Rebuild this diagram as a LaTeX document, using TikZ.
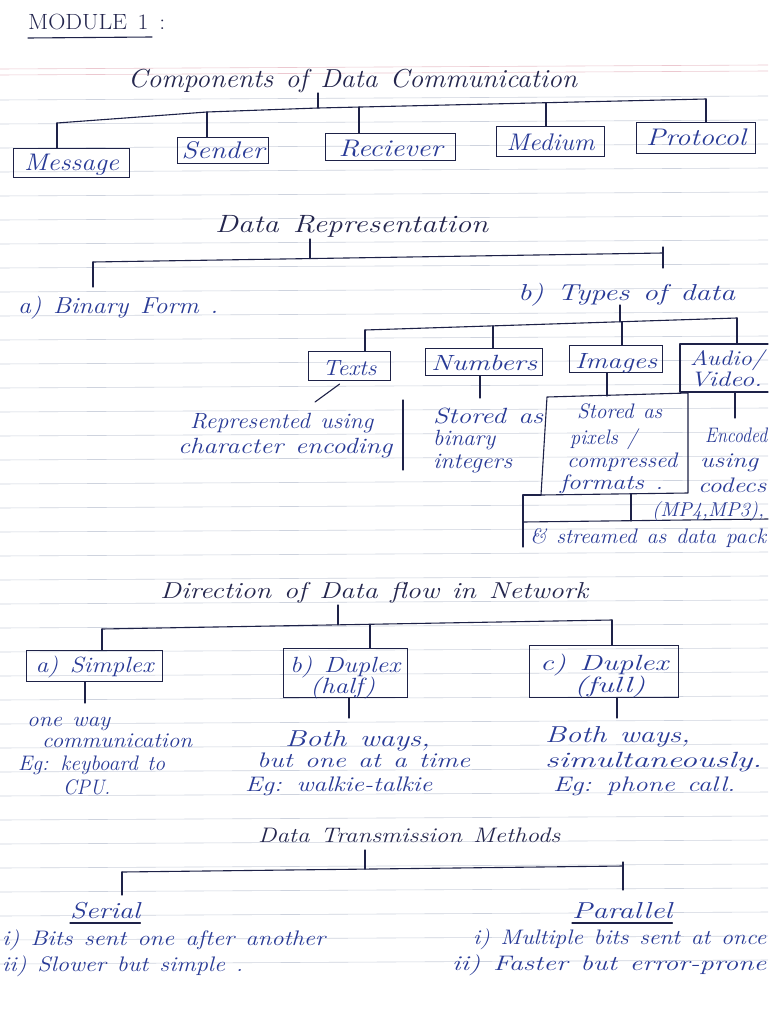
\documentclass[tikz,border=0pt]{standalone}
\usepackage{fontspec}
\usepackage{graphicx}
\definecolor{ink}{RGB}{36,38,78}
\definecolor{blueink}{RGB}{40,58,150}
\definecolor{lineink}{RGB}{30,34,72}
\definecolor{rulegray}{RGB}{206,211,222}
\definecolor{pinkrule}{RGB}{236,200,208}
\newcommand\fw[2]{\resizebox{#1pt}{\height}{\spaceskip=0.45em plus .1em\relax #2}}
\tikzset{
  hw/.style={inner sep=0pt, anchor=base west, text=blueink, font=\fontsize{#1pt}{#1pt}\selectfont\itshape},
  hw/.default=22,
  hd/.style={hw=#1, text=ink},
  hd/.default=25,
  bx/.style={draw=lineink, line width=1.1pt, inner sep=0pt, anchor=north west, text=blueink, font=\fontsize{#1pt}{#1pt}\selectfont\itshape},
  bx/.default=24,
  cn/.style={draw=lineink, line width=1.1pt, line cap=round, line join=round},
  ruled/.style={draw=rulegray, line width=0.6pt},
  pinkline/.style={draw=pinkrule, line width=0.6pt}
}
\begin{document}
\begin{tikzpicture}[x=1pt,y=-1pt]
\useasboundingbox (0,0) rectangle (768,1024);
\fill[white] (0,0) rectangle (768,1024);
% notebook rules
\foreach \k in {0,...,36} { \draw[ruled] (0,100+24*\k) -- (768,96+24*\k); }
\draw[pinkline] (0,69) -- (768,65);
\draw[pinkline] (0,75) -- (768,71);

% ---------- Module title ----------
\node[hd=22, font=\fontsize{22pt}{22pt}\selectfont\upshape] (mod) at (28,30) {\fw{137}{MODULE 1 :}};
\draw[cn] ([yshift=-8pt]mod.base west) -- ++(124,-1);

% ---------- Components of Data Communication ----------
\node[hd=26] (comp) at (128,88) {\fw{449}{Components of Data Communication}};
\node[bx, minimum width=116pt, minimum height=29pt, text height=22pt, text depth=7pt] (msg) at (13,148) {\fw{95}{Message}};
\node[bx, minimum width=91pt, minimum height=26pt, text height=21pt, text depth=5pt] (snd) at (177,137) {\fw{83}{Sender}};
\node[bx, minimum width=130pt, minimum height=27pt, text height=23pt, text depth=4pt] (rcv) at (325,133) {\fw{104}{Reciever}};
\node[bx, minimum width=108pt, minimum height=30pt, text height=24pt, text depth=6pt] (med) at (496,126) {\fw{88}{Medium}};
\node[bx, minimum width=119pt, minimum height=31pt, text height=23pt, text depth=8pt] (pro) at (636,122) {\fw{100}{Protocol}};
\coordinate (c0) at (318,93);
\coordinate (b1a) at (57,123);
\coordinate (b1b) at (207,112);
\coordinate (b1c) at (318,108);
\coordinate (b1d) at (359,107);
\coordinate (b1e) at (546,102.7);
\coordinate (b1f) at (706,99);
\draw[cn] (c0) -- (b1c);
\draw[cn] (b1a) -- (b1b) -- (b1c) -- (b1f);
\draw[cn] (b1a) -- (msg.north -| b1a);
\draw[cn] (b1b) -- (snd.north -| b1b);
\draw[cn] (b1d) -- (rcv.north -| b1d);
\draw[cn] (b1e) -- (med.north -| b1e);
\draw[cn] (b1f) -- (pro.north -| b1f);

% ---------- Data Representation ----------
\node[hd] (drep) at (215,233) {\fw{273}{Data Representation}};
\node[hw=23] (bin) at (18,313) {\fw{200}{a) Binary Form .}};
\node[hw=23] (typ) at (518,300) {\fw{217}{b) Types of data}};
\coordinate (d0) at (310,239);
\coordinate (dm) at (310,258.6);
\coordinate (d1) at (93,262);
\coordinate (d1b) at (93,287);
\coordinate (d2) at (663,253);
\coordinate (d2a) at (663,247);
\coordinate (d2b) at (663,268);
\draw[cn] (d0) -- (dm);
\draw[cn] (d1) -- (d2);
\draw[cn] (d1) -- (d1b);
\draw[cn] (d2a) -- (d2b);

\node[bx=22, minimum width=82pt, minimum height=29pt, text height=24pt, text depth=5pt] (txt) at (308,351) {\fw{54}{Texts}};
\node[bx=22, minimum width=117pt, minimum height=27pt, text height=22pt, text depth=5pt] (num) at (425,348) {\fw{106}{Numbers}};
\node[bx=22, minimum width=93pt, minimum height=27pt, text height=23pt, text depth=4pt] (img) at (569,345) {\fw{82}{Images}};
\coordinate (av1) at (768,344);
\coordinate (av2) at (680,344);
\coordinate (av3) at (680,392);
\coordinate (av4) at (768,392);
\draw[cn] (av1) -- (av2) -- (av3) -- (av4);
\node[hw=21] (aud) at (690,365) {\fw{74}{Audio/}};
\node[hw=21] (vid) at (690,386) {\fw{72}{Video.}};

\coordinate (t0) at (620,305);
\coordinate (t1) at (620,321.8);
\coordinate (ta) at (365,330);
\coordinate (tb) at (493,325.9);
\coordinate (tc) at (622,321.7);
\coordinate (tdd) at (737,318);
\coordinate (tdb) at (737,344);
\draw[cn] (t0) -- (t1);
\draw[cn] (ta) -- (tdd);
\draw[cn] (ta) -- (txt.north -| ta);
\draw[cn] (tb) -- (num.north -| tb);
\draw[cn] (tc) -- (img.north -| tc);
\draw[cn] (tdd) -- (tdb);

% Texts column
\coordinate (rtip) at (315,402);
\draw[cn] (txt.south) ++(-10,3) -- (rtip);
\node[hw] (rep1) at (190,428) {\fw{183}{Represented using}};
\node[hw] (rep2) at (178,453) {\fw{214}{character encoding}};
\coordinate (dv1) at (403,400);
\coordinate (dv2) at (403,470);
\draw[cn] (dv1) -- (dv2);

% Numbers column
\coordinate (nst) at (480,398);
\draw[cn] (num.south -| nst) -- (nst);
\node[hw] (n1) at (433,423) {\fw{110}{Stored as}};
\node[hw] (n2) at (433,445) {\fw{62}{binary}};
\node[hw] (n3) at (433,468) {\fw{79}{integers}};

% Images column
\coordinate (ist) at (607,396);
\draw[cn] (img.south -| ist) -- (ist);
\coordinate (ib1) at (547,397);
\coordinate (ib2) at (688,393);
\coordinate (ib3) at (688,493);
\coordinate (ib4) at (541,495);
\draw[cn] (ib1) -- (ib2) -- (ib3) -- (ib4) -- cycle;
\node[hw=21] (i1) at (577,418) {\fw{85}{Stored as}};
\node[hw=21] (i2) at (570,444) {\fw{67}{pixels /}};
\node[hw=21] (i3) at (567,467) {\fw{110}{compressed}};
\node[hw=21] (i4) at (560,489) {\fw{103}{formats .}};

% Audio / Video column
\coordinate (ast1) at (735,392);
\coordinate (ast2) at (735,418);
\draw[cn] (ast1) -- (ast2);
\node[hw=21] (a1) at (705,442) {\fw{62}{Encoded}};
\node[hw=21] (a2) at (700,467) {\fw{58}{using}};
\node[hw=21] (a3) at (698,492) {\fw{68}{codecs}};

% streaming bracket
\coordinate (sb1) at (523,495);
\coordinate (sb2) at (523,547);
\coordinate (sb3) at (631,494);
\coordinate (sb4) at (631,521);
\coordinate (sb5) at (523,522);
\coordinate (sb6) at (768,519);
\draw[cn] (ib4) -- (sb1) -- (sb2);
\draw[cn] (sb3) -- (sb4);
\draw[cn] (sb5) -- (sb6);
\node[hw=20] (mp) at (652,516) {\fw{112}{(MP4,MP3),}};
\node[hw=21] (str) at (530,543) {\fw{236}{\& streamed as data pack}};

% ---------- Direction of data flow ----------
\node[hd=23] (dir) at (160,598) {\fw{428}{Direction of Data flow in Network}};
\node[bx=22, minimum width=136pt, minimum height=31pt, text height=22pt, text depth=9pt] (sim) at (26,650) {\fw{118}{a) Simplex}};
\node[bx, minimum width=124pt, minimum height=49pt] (dh) at (283,648) {};
\node[bx, minimum width=149pt, minimum height=52pt] (df) at (529,645) {};
\node[hw=22] (dh1) at (290,672) {\fw{110}{b) Duplex}};
\node[hw=22] (dh2) at (310,693) {\fw{65}{(half)}};
\node[hw=22] (df1) at (540,670) {\fw{128}{c) Duplex}};
\node[hw=22] (df2) at (574,692) {\fw{71}{(full)}};
\coordinate (f0) at (338,605);
\coordinate (fm) at (338,624.8);
\coordinate (fa) at (102,629);
\coordinate (fb) at (370,624.3);
\coordinate (fc) at (612,620);
\draw[cn] (f0) -- (fm);
\draw[cn] (fa) -- (fc);
\draw[cn] (fa) -- (sim.north -| fa);
\draw[cn] (fb) -- (dh.north -| fb);
\draw[cn] (fc) -- (df.north -| fc);
\coordinate (s1) at (85,703);
\coordinate (s2) at (349,718);
\coordinate (s3) at (617,718);
\draw[cn] (sim.south -| s1) -- (s1);
\draw[cn] (dh.south -| s2) -- (s2);
\draw[cn] (df.south -| s3) -- (s3);
\node[hw=21] (o1) at (27,726) {\fw{83}{one way}};
\node[hw=21] (o2) at (42,747) {\fw{150}{communication}};
\node[hw=21] (o3) at (18,770) {\fw{147}{Eg: keyboard to}};
\node[hw=21] (o4) at (63,794) {\fw{47}{CPU.}};
\node[hw=23] (h1) at (285,746) {\fw{145}{Both ways,}};
\node[hw=21] (h2) at (257,767) {\fw{213}{but one at a time}};
\node[hw=21] (h3) at (245,791) {\fw{187}{Eg: walkie-talkie}};
\node[hw=23] (u1) at (545,742) {\fw{145}{Both ways,}};
\node[hw=22] (u2) at (545,767) {\fw{217}{simultaneously.}};
\node[hw=21] (u3) at (553,791) {\fw{182}{Eg: phone call.}};

% ---------- Data Transmission Methods ----------
\node[hd=21] (dtm) at (258,842) {\fw{302}{Data Transmission Methods}};
\node[hw=23] (ser) at (70,918) {\fw{70}{Serial}};
\node[hw=23] (par) at (572,918) {\fw{100}{Parallel}};
\draw[cn] ([yshift=-5pt]ser.base west) -- ([yshift=-5pt]ser.base east);
\draw[cn] ([yshift=-5pt]par.base west) -- ([yshift=-5pt]par.base east);
\coordinate (m0) at (365,850);
\coordinate (mm) at (365,869.1);
\coordinate (ma) at (122,872);
\coordinate (mb) at (623,866);
\coordinate (ma2) at (122,895);
\coordinate (mb1) at (623,862);
\coordinate (mb2) at (623,890);
\draw[cn] (m0) -- (mm);
\draw[cn] (ma) -- (mb);
\draw[cn] (ma) -- (ma2);
\draw[cn] (mb1) -- (mb2);
\node[hw=21] (sr1) at (2,945) {\fw{323}{i) Bits sent one after another}};
\node[hw=21] (sr2) at (2,971) {\fw{241}{ii) Slower but simple .}};
\node[hw=21] (pr1) at (473,944) {\fw{293}{i) Multiple bits sent at once}};
\node[hw=21] (pr2) at (452,970) {\fw{314}{ii) Faster but error-prone}};
\end{tikzpicture}
\end{document}
